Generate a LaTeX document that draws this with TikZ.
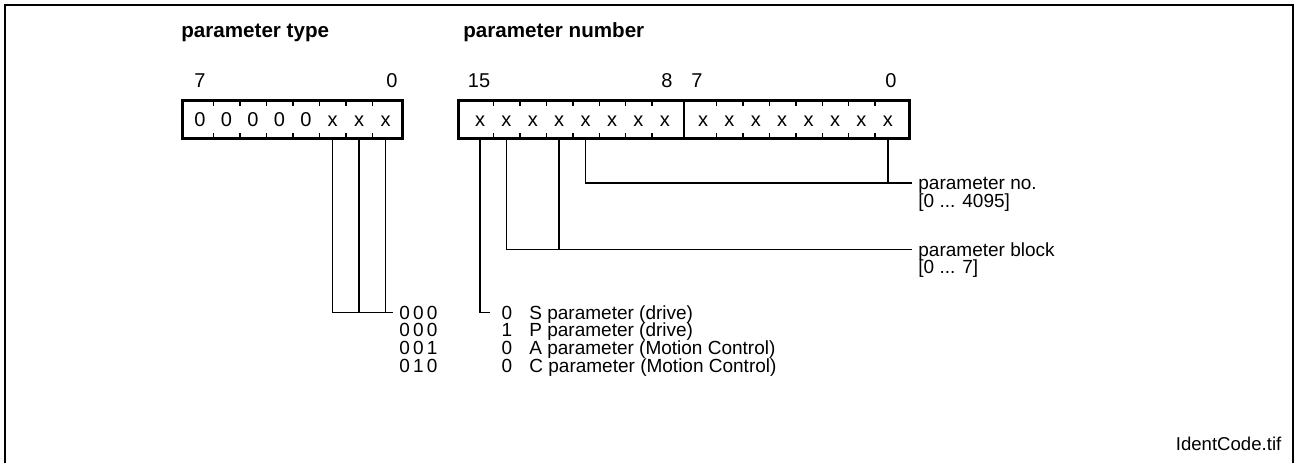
\documentclass[tikz,border=0pt]{standalone}
\usepackage{fontspec}
\setmainfont{Liberation Sans}
\usetikzlibrary{positioning,calc,fit}

\tikzset{
  bit/.style={minimum width=13.2pt, minimum height=19pt, inner sep=0pt,
    text height=7.2pt, text depth=0pt},
  reg/.style={draw, line width=1.5pt, inner ysep=0pt},
  notch/.style={line width=0.7pt},
  wire/.style={line width=0.8pt},
  txt/.style={inner xsep=3pt, inner ysep=0pt, text height=6.8pt, text depth=0pt,
    font=\fontsize{9.5}{11}\selectfont}
}

\begin{document}
\begin{tikzpicture}[x=0.5pt, y=-0.5pt, font=\fontsize{10}{12}\selectfont]
  \useasboundingbox (0,0) rectangle (1295,463);
  % frame, open at the bottom
  \draw[line width=1pt] (5,463) -- (5,5) -- (1292.5,5) -- (1292.5,463);

  % headings
  \node[anchor=base west, inner sep=0pt, font=\bfseries\fontsize{10.3}{12}\selectfont] (typehead) at (181,37) {parameter type};
  \node[anchor=base west, inner sep=0pt, font=\bfseries\fontsize{10.3}{12}\selectfont] (numhead) at (463,37) {parameter number};

  % type byte
  \foreach \i/\v in {7/0,6/0,5/0,4/0,3/0,2/x,1/x,0/x}
    \node[bit] (t\i) at ({200+26.5*(7-\i)},119.5) {\v};
  \node[reg, fit=(t7)(t0), inner xsep=1.75pt] (typebox) {};
  \foreach \i in {7,...,1}
    \draw[notch] (t\i.north east) -- ++(0,6) (t\i.south east) -- ++(0,-6);
  \node[anchor=base] (ht7) at (200,87) {7};
  \node[anchor=base] (ht0) at (392,87) {0};

  % number word
  \foreach \i in {15,...,8}
    \node[bit] (n\i) at ({480+26.4*(15-\i)},119.5) {x};
  \foreach \i in {7,...,0}
    \node[bit] (n\i) at ({703+26.4*(7-\i)},119.5) {x};
  \node[reg, fit=(n15)(n0), inner xsep=4pt] (numbox) {};
  \foreach \i in {15,...,9,7,6,...,1}
    \draw[notch] (n\i.north east) -- ++(0,6) (n\i.south east) -- ++(0,-6);
  \draw[notch] ($(n8.north east)!.5!(n7.north west)$) -- ($(n8.south east)!.5!(n7.south west)$);
  \node[anchor=base] (hn15) at (479,87) {15};
  \node[anchor=base] (hn8) at (667,87) {8};
  \node[anchor=base] (hn7) at (697,87) {7};
  \node[anchor=base] (hn0) at (891,87) {0};

  % ranges
  \node[txt, anchor=west] (pno) at (912,182.7) {parameter no.};
  \node[txt, below=1.6pt of pno.south west, anchor=north west] (pnorange) {[0 ... 4095]};
  \node[txt, anchor=west] (pblk) at (912,249.3) {parameter block};
  \node[txt, below=1.6pt of pblk.south west, anchor=north west] (pblkrange) {[0 ... 7]};

  % code table
  \node[txt, anchor=west] (c1) at (393,312.5) {0\,0\,0};
  \node[txt, below=1.6pt of c1.south west, anchor=north west] (c2) {0\,0\,0};
  \node[txt, below=1.6pt of c2.south west, anchor=north west] (c3) {0\,0\,1};
  \node[txt, below=1.6pt of c3.south west, anchor=north west] (c4) {0\,1\,0};
  \node[txt] (v1) at (507,312.5) {0};
  \node[txt] (v2) at (v1 |- c2) {1};
  \node[txt] (v3) at (v1 |- c3) {0};
  \node[txt] (v4) at (v1 |- c4) {0};
  \node[txt, anchor=west] (d1) at (523,312.5) {S parameter (drive)};
  \node[txt, anchor=west] (d2) at (d1.west |- c2) {P parameter (drive)};
  \node[txt, anchor=west] (d3) at (d1.west |- c3) {A parameter (Motion Control)};
  \node[txt, anchor=west] (d4) at (d1.west |- c4) {C parameter (Motion Control)};

  % bit lines
  \draw[wire] (t2.south) |- (c1.west);
  \draw[wire] (t1.south) -- (t1.south |- c1.west);
  \draw[wire] (t0.south) -- (t0.south |- c1.west);
  \draw[wire] (n15.south) |- ([xshift=-2.5pt]v1.west);
  \draw[wire] (n14.south) |- (pblk.west);
  \draw[wire] (n12.south) -- (n12.south |- pblk.west);
  \draw[wire] (n11.south) |- (pno.west);
  \draw[wire] (n0.south) -- (n0.south |- pno.west);

  \node[anchor=base east, inner sep=0pt, font=\fontsize{9.3}{11}\selectfont] (fname) at (1281.7,450) {IdentCode.tif};
\end{tikzpicture}
\end{document}
